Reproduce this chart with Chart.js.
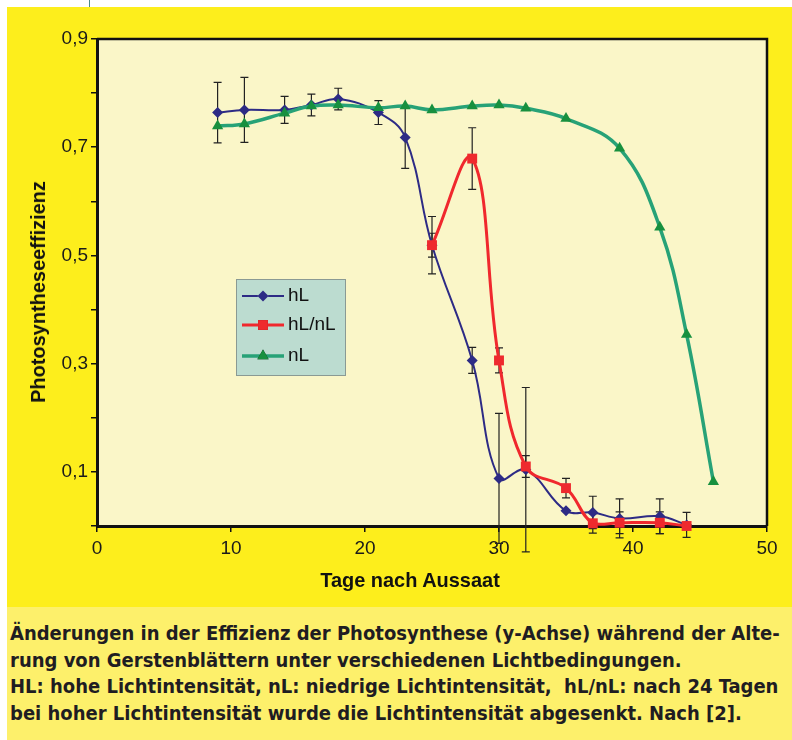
<!DOCTYPE html>
<html lang="de">
<head>
    <meta charset="UTF-8">
    <title>Photosyntheseeffizienz</title>
    <script src="https://cdn.jsdelivr.net/npm/chart.js"></script>
    <style>
        body {
            margin: 0;
            width: 792px;
            height: 740px;
            background: #ffffff;
            position: relative;
            overflow: hidden;
            font-family: "Liberation Sans", Arial, sans-serif;
        }
        .frame {
            position: absolute;
            left: 7px;
            top: 7px;
            width: 785px;
            height: 600px;
            background: #fdee1c;
        }
        .mark {
            position: absolute;
            left: 89px;
            top: 0;
            width: 1px;
            height: 7px;
            background: #4a8a8a;
        }
        .axis-title {
            position: absolute;
            font-weight: bold;
            font-size: 21px;
            color: #111;
            white-space: nowrap;
        }
        #ytitle {
            left: 38px;
            top: 292px;
            transform: translate(-50%, -50%) rotate(-90deg) scaleX(0.95);
        }
        #xtitle {
            left: 410px;
            top: 580px;
            transform: translate(-50%, -50%) scaleX(0.95);
        }
        .caption {
            position: absolute;
            left: 7px;
            top: 607px;
            width: 785px;
            height: 133px;
            background: #fdf06b;
            box-sizing: border-box;
            padding: 13px 0 0 3px;
            font-family: "Liberation Sans Narrow", "DejaVu Sans Condensed", sans-serif;
            font-weight: bold;
            font-size: 20px;
            line-height: 26.7px;
            color: #1f1d22;
            white-space: nowrap;
        }
    </style>
</head>
<body>
    <div class="mark"></div>
    <div class="frame">
        <canvas id="chart" width="785" height="600"></canvas>
    </div>
    <div class="axis-title" id="ytitle">Photosyntheseeffizienz</div>
    <div class="axis-title" id="xtitle">Tage nach Aussaat</div>
    <div class="caption">
        Änderungen in der Effizienz der Photosynthese (y-Achse) während der Alte-<br>
        rung von Gerstenblättern unter verschiedenen Lichtbedingungen.<br>
        HL: hohe Lichtintensität, nL: niedrige Lichtintensität,&nbsp; hL/nL: nach 24 Tagen<br>
        bei hoher Lichtintensität wurde die Lichtintensität abgesenkt. Nach [2].
    </div>

    <script>
        // Values
        const hLDays = [9, 11, 14, 16, 18, 21, 23, 25, 28, 30, 32, 35, 37, 39, 42, 44];
        const hL = [0.764, 0.769, 0.769, 0.778, 0.789, 0.764, 0.718, 0.519, 0.306, 0.088, 0.104, 0.028, 0.025, 0.014, 0.018, 0.002];
        const hLErr = [0.056, 0.06, 0.025, 0.02, 0.02, 0.022, 0.057, 0.053, 0.024, 0.12, 0.152, 0, 0.03, 0.036, 0.032, 0.023];

        const hLnLDays = [25, 28, 30, 32, 35, 37, 39, 42, 44];
        const hLnL = [0.519, 0.679, 0.306, 0.11, 0.07, 0.005, 0.006, 0.006, 0.0];
        const hLnLErr = [0.022, 0.057, 0.023, 0.02, 0.018, 0.018, 0.02, 0.02, 0];

        const nLDays = [9, 11, 14, 16, 18, 21, 23, 25, 28, 30, 32, 35, 39, 42, 44, 46];
        const nL = [0.739, 0.743, 0.763, 0.776, 0.778, 0.773, 0.776, 0.769, 0.776, 0.778, 0.772, 0.753, 0.698, 0.552, 0.354, 0.082];

        const seriesNames = ['hL', 'hL/nL', 'nL'];

        function toPoints(xs, ys) {
            return xs.map((x, i) => ({ x: x, y: ys[i] }));
        }

        // Plot background and top/right frame
        const plotFrame = {
            id: 'plotFrame',
            beforeDraw(chart) {
                const { ctx, chartArea: a } = chart;
                ctx.save();
                ctx.fillStyle = '#faf6c8';
                ctx.fillRect(a.left, a.top, a.right - a.left, a.bottom - a.top);
                ctx.restore();
            },
            beforeDatasetsDraw(chart) {
                const { ctx, chartArea: a } = chart;
                ctx.save();
                ctx.strokeStyle = '#111';
                ctx.lineWidth = 2.5;
                ctx.beginPath();
                ctx.moveTo(a.left, a.top);
                ctx.lineTo(a.right, a.top);
                ctx.lineTo(a.right, a.bottom);
                ctx.stroke();
                ctx.restore();
            }
        };

        // Vertical error bars with caps
        const errorBars = {
            id: 'errorBars',
            beforeDatasetsDraw(chart) {
                const { ctx, scales: { x, y } } = chart;
                ctx.save();
                ctx.strokeStyle = '#222';
                ctx.lineWidth = 1.2;
                chart.data.datasets.forEach(ds => {
                    if (!ds.err) return;
                    ds.data.forEach((p, i) => {
                        const e = ds.err[i];
                        if (!e) return;
                        const px = x.getPixelForValue(p.x);
                        const top = y.getPixelForValue(p.y + e);
                        const bot = y.getPixelForValue(p.y - e);
                        ctx.beginPath();
                        ctx.moveTo(px, top);
                        ctx.lineTo(px, bot);
                        ctx.moveTo(px - 4, top);
                        ctx.lineTo(px + 4, top);
                        ctx.moveTo(px - 4, bot);
                        ctx.lineTo(px + 4, bot);
                        ctx.stroke();
                    });
                });
                ctx.restore();
            }
        };

        // Legend box inside the plot
        const boxLegend = {
            id: 'boxLegend',
            afterDatasetsDraw(chart) {
                const ctx = chart.ctx;
                const bx = 229, by = 272, bw = 109, bh = 96;
                ctx.save();
                ctx.fillStyle = '#bcdcd0';
                ctx.strokeStyle = '#8a9a94';
                ctx.lineWidth = 1;
                ctx.fillRect(bx, by, bw, bh);
                ctx.strokeRect(bx + 0.5, by + 0.5, bw, bh);
                const rows = [289, 318, 349];
                chart.data.datasets.forEach((ds, i) => {
                    const ry = rows[i];
                    ctx.strokeStyle = ds.borderColor;
                    ctx.lineWidth = ds.borderWidth;
                    ctx.beginPath();
                    ctx.moveTo(235, ry);
                    ctx.lineTo(277, ry);
                    ctx.stroke();
                    Chart.helpers.drawPoint(ctx, {
                        pointStyle: ds.pointStyle,
                        radius: ds.pointRadius,
                        borderWidth: 0
                    }, 256, ry);
                    ctx.fillStyle = ds.pointBackgroundColor;
                    ctx.fill();
                    ctx.fillStyle = '#111';
                    ctx.font = '19px "Liberation Sans", Arial, sans-serif';
                    ctx.textBaseline = 'middle';
                    ctx.fillText(seriesNames[i], 281, ry);
                });
                ctx.restore();
            }
        };

        const data = {
            datasets: [
                {
                    label: seriesNames[0],
                    data: toPoints(hLDays, hL),
                    err: hLErr,
                    borderColor: '#2d2b85',
                    borderWidth: 2,
                    pointStyle: 'rectRot',
                    pointRadius: 5.5,
                    pointBackgroundColor: '#2d2b85',
                    pointBorderWidth: 0,
                    order: 3
                },
                {
                    label: seriesNames[1],
                    data: toPoints(hLnLDays, hLnL),
                    err: hLnLErr,
                    borderColor: '#f0282d',
                    borderWidth: 3,
                    pointStyle: 'rect',
                    pointRadius: 7,
                    pointBackgroundColor: '#ee2a2e',
                    pointBorderWidth: 0,
                    order: 2
                },
                {
                    label: seriesNames[2],
                    data: toPoints(nLDays, nL),
                    borderColor: '#27a277',
                    borderWidth: 3.5,
                    pointStyle: 'triangle',
                    pointRadius: 6.5,
                    pointBackgroundColor: '#17903f',
                    pointBorderWidth: 0,
                    order: 1
                }
            ]
        };

        const tickFont = { family: '"Liberation Sans", Arial, sans-serif', size: 19 };

        new Chart(document.getElementById('chart'), {
            type: 'line',
            data: data,
            options: {
                responsive: false,
                animation: false,
                clip: false,
                elements: {
                    line: { tension: 0.4, fill: false }
                },
                layout: { padding: { left: 0, top: 32, right: 25, bottom: 0 } },
                plugins: {
                    legend: { display: false },
                    tooltip: { enabled: false }
                },
                scales: {
                    x: {
                        type: 'linear',
                        min: 0,
                        max: 50,
                        afterFit(scale) { scale.height = 81; },
                        ticks: {
                            stepSize: 10,
                            color: '#1a1a1a',
                            font: tickFont,
                            padding: 5
                        },
                        grid: {
                            drawOnChartArea: false,
                            drawTicks: true,
                            tickLength: 6,
                            color: '#111',
                            lineWidth: 1.5
                        },
                        border: { display: true, color: '#111', width: 3 }
                    },
                    y: {
                        min: 0,
                        max: 0.9,
                        afterFit(scale) { scale.width = 90; },
                        ticks: {
                            stepSize: 0.1,
                            color: '#1a1a1a',
                            font: tickFont,
                            padding: 3,
                            callback(value) {
                                const k = Math.round(value * 10);
                                return k % 2 === 1 ? (k / 10).toFixed(1).replace('.', ',') : '';
                            }
                        },
                        grid: {
                            drawOnChartArea: false,
                            drawTicks: true,
                            tickLength: 6,
                            color: '#111',
                            lineWidth: 1.5
                        },
                        border: { display: true, color: '#111', width: 3 }
                    }
                }
            },
            plugins: [plotFrame, errorBars, boxLegend]
        });
    </script>
</body>
</html>
